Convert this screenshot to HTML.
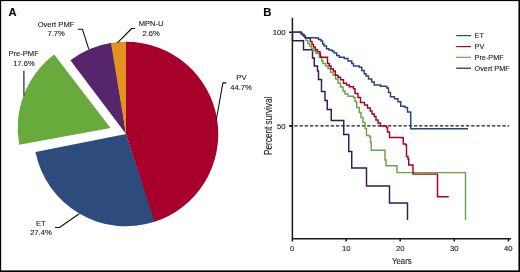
<!DOCTYPE html>
<html><head><meta charset="utf-8"><title>Figure</title>
<style>
html,body{margin:0;padding:0;background:#fff;}
body{width:520px;height:272px;overflow:hidden;font-family:"Liberation Sans",Arial,Helvetica,sans-serif;}
svg{display:block;}
svg text{font-family:"Liberation Sans",Arial,Helvetica,sans-serif;stroke:#1c1c1c;stroke-width:0.12px;}
</style></head><body>
<svg width="520" height="272" viewBox="0 0 520 272">
<rect x="0" y="0" width="520" height="272" fill="#ffffff"/>
<!-- border -->
<rect x="0" y="0" width="520" height="1.1" fill="#000"/>
<rect x="0" y="270.4" width="520" height="1.6" fill="#000"/>
<rect x="0" y="0" width="1.15" height="272" fill="#000"/>
<rect x="518.45" y="0" width="1.55" height="272" fill="#000"/>

<!-- Panel A -->
<text x="8.5" y="15.7" font-size="11.2" font-weight="bold" fill="#000">A</text>
<g shape-rendering="geometricPrecision">
<path d="M126.00,134.00 L70.35,60.36 A92.3,92.3 0 0 1 111.78,42.80 Z" fill="#57256B"/>
<path d="M126.00,134.00 L110.99,42.93 A92.3,92.3 0 0 1 126.81,41.70 Z" fill="#E2921F"/>
<path d="M126.00,134.00 L126.00,41.70 A92.3,92.3 0 0 1 153.76,222.03 Z" fill="#A6002B"/>
<path d="M126.00,134.00 L154.52,221.78 A92.3,92.3 0 0 1 35.46,151.93 Z" fill="#2E4B7E"/>
<path d="M110.5,127.9 L19.23,144.80 A92.3,92.3 0 0 1 54.22,54.38 Z" fill="#68AA3C"/>
</g>
<g fill="none" stroke="#111" stroke-width="1.1" stroke-linejoin="round" stroke-linecap="round">
<path d="M78.4,29.3 H82.5 L88.7,48.8"/>
<path d="M134.7,28.5 H131.7 L117.6,42.6"/>
<path d="M226,82.9 H222.9 L216.4,119"/>
<path d="M23.9,71 V95"/>
<path d="M55.5,227.5 H59.4 L78.9,214"/>
</g>
<g font-size="7.6" fill="#1c1c1c" text-anchor="middle">
<text x="56" y="26.7">Overt PMF</text><text x="56.1" y="35.9">7.7%</text>
<text x="151.1" y="25.9">MPN-U</text><text x="151.2" y="35.5">2.6%</text>
<text x="241.4" y="80.1">PV</text><text x="241" y="89.6">44.7%</text>
<text x="23.6" y="56.2">Pre-PMF</text><text x="23.9" y="65.9">17.6%</text>
<text x="40.9" y="225.5">ET</text><text x="40.9" y="234.8">27.4%</text>
</g>

<!-- Panel B -->
<text x="263.3" y="16" font-size="11.3" font-weight="bold" fill="#000">B</text>
<g fill="none" stroke="#1a1a1a" stroke-width="1.5">
<path d="M292.4,17.8 V238.65 H511"/>
<path d="M289.1,32.2 H292.4 M289.1,125.9 H292.4"/>
<path d="M292.4,238.6 V241.5 M346.2,238.6 V241.5 M400.2,238.6 V241.5 M454.3,238.6 V241.5 M508.4,238.6 V241.5"/>
</g>
<path d="M289.15,125.9 H509.2" fill="none" stroke="#1a1a1a" stroke-width="1.35" stroke-dasharray="3.3,1.9"/>
<g fill="none" stroke-width="1.45" stroke-linejoin="miter">
<path d="M292.5,32.15 V40.7 H303.5 V49.75 H312.5 V58 H314.25 V66 H317.5 V71 H318.5 V79.5 H321.5 V91.5 H325 V100.5 H327.25 V109.5 H331.25 V120.5 H343.75 V134.5 H348.75 V151.5 H351.75 V168 H366.5 V186 H389.5 V203 H407.5 V220" stroke="#331859"/>
<path d="M292.5,32.15 H299.6 V32.15 H301 V33.4 H302.5 V34.8 H304 V36.2 H305 V37.3 H304.6 V37.8 H306 V40.5 H307.8 V43.5 H309.6 V46 H311.5 V48.6 H313 V51 H316 V53.5 H319.25 V57.25 H321.75 V61 H323 V63.5 H325.5 V66 H328 V68.5 H330.5 V72.25 H333 V75 H335.5 V79 H338 V83 H340.5 V87 H343 V91 H345 V94 H348 V96.25 H353.5 V97.5 H355 V101.5 H356.75 V107.5 H359.25 V112.5 H361 V117.5 H363 V122.5 H365 V128.5 H366.5 V135.5 H369.5 V137 H370.5 V142.5 H371.25 V150.25 H384.75 V150.5 H385 V160 H386 V165.75 H395.75 V166 H397 V172.6 H465.5 V172.6 H465.5 V220" stroke="#69A540"/>
<path d="M292.5,32.15 H299.6 V32.15 H301 V33.4 H302.5 V34.8 H304 V36.2 H305 V37.3 H305.8 V37.8 H308.6 V38.2 H310.3 V41.5 H312 V44.5 H313.5 V47 H315.2 V49.75 H317.5 V51.75 H320 V54 H320.5 V57.25 H327.5 V63.5 H329.25 V66 H331 V69 H333.5 V71 H335.25 V75.25 H338 V77.25 H340.5 V79.75 H343.5 V83.25 H346.5 V85 H349.25 V86.75 H353.5 V88.75 H355 V93.5 H358 V97.5 H360.5 V102.5 H364.5 V105 H367.5 V108 H370.25 V111 H372 V114 H374.25 V116.5 H376 V120 H378 V123 H380.5 V126 H386.5 V127.5 H387.5 V132 H389.5 V137.5 H402.5 V138 H403.25 V144 H405.75 V145 H406.5 V156.5 H408 V159 H408.75 V165 H412.75 V165.25 H413 V174.1 H437.5 V174.1 H437.5 V196.75 H448.75 V196.75" stroke="#A6002B"/>
<path d="M292.5,32.15 H299.6 V32.15 H301 V33.4 H302.5 V34.8 H304 V36.2 H305 V37.3 H305.8 V37.7 H316.4 V37.9 H318.5 V39.5 H321 V41 H322.6 V44 H324 V46 H326.5 V48.7 H329 V50 H332.3 V51.2 H334 V53 H336.75 V55.5 H339.25 V57.25 H344.25 V58.5 H348 V61 H351.75 V63.5 H353.5 V66 H359.25 V67.25 H361.75 V70.5 H364.25 V73.75 H366 V76 H368.5 V79 H371.75 V82 H374.25 V85 H380.5 V86.25 H386.75 V88 H388.5 V92.5 H390.5 V96.75 H394.5 V98.75 H398 V101.75 H400.75 V106.25 H405 V107.5 H407.5 V112 H410.5 V112.5 H410.75 V128.75 H468 V128.75" stroke="#2A4479"/>
</g>
<g font-size="7.75" fill="#1c1c1c" text-anchor="end">
<text x="285.7" y="34.8">100</text>
<text x="285.5" y="128.5">50</text>
</g>
<g font-size="7.75" fill="#1c1c1c" text-anchor="middle">
<text x="292.2" y="251.2">0</text>
<text x="346.3" y="251.2">10</text>
<text x="400.2" y="251.2">20</text>
<text x="454.3" y="251.2">30</text>
<text x="508.2" y="251.2">40</text>
</g>
<text transform="translate(401.8,263.8) scale(0.82,1)" font-size="9.6" fill="#1c1c1c" text-anchor="middle">Years</text>
<text transform="translate(272,125.8) rotate(-90) scale(0.82,1)" font-size="10" fill="#1c1c1c" text-anchor="middle">Percent survival</text>
<!-- legend -->
<g fill="none" stroke-width="1.2">
<path d="M456.2,35.6 H471" stroke="#2A4479"/>
<path d="M456.2,46.6 H471" stroke="#A6002B"/>
<path d="M456.2,57.3 H471" stroke="#69A540"/>
<path d="M456.2,68.2 H471" stroke="#331859"/>
</g>
<g font-size="7.25" fill="#1c1c1c">
<text x="474.6" y="38.2">ET</text>
<text x="474.6" y="49.2">PV</text>
<text x="474.6" y="59.9">Pre-PMF</text>
<text x="474.6" y="70.8">Overt PMF</text>
</g>
</svg>
</body></html>
